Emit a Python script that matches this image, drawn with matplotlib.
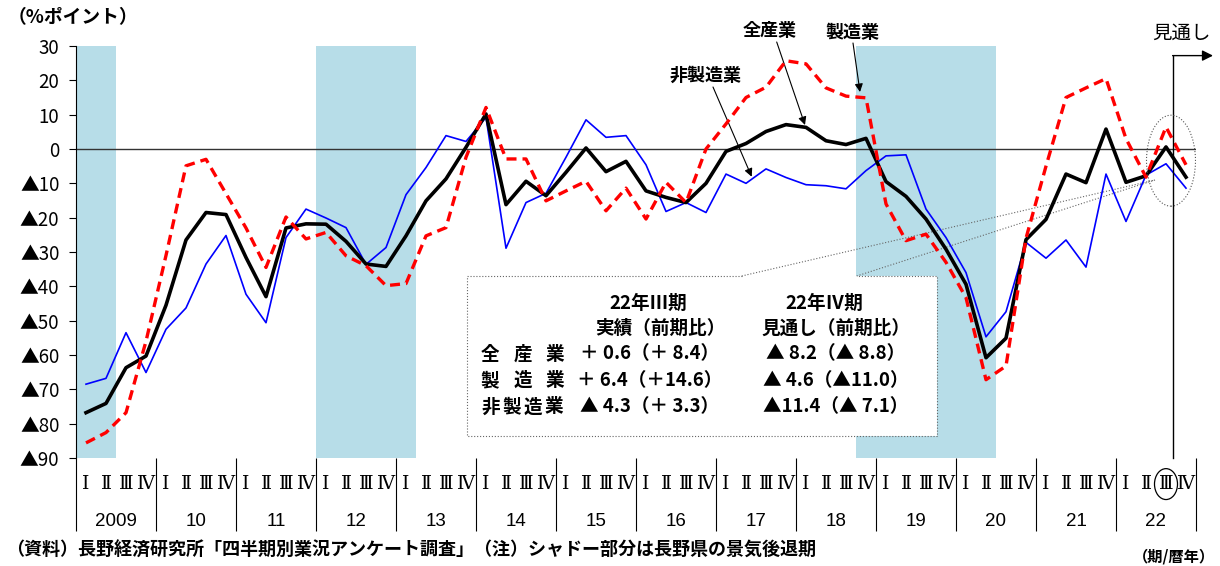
import matplotlib
matplotlib.use("Agg")
import matplotlib.pyplot as plt
from matplotlib.patches import Rectangle, Ellipse
import numpy as np

W, H = 1220, 566
JP = "Noto Sans CJK JP"
plt.rcParams["font.family"] = [JP, "DejaVu Sans"]

# ---- data (DI, %ポイント), 2009 I ~ 2022 IV (IV is 見通し) ----
years = list(range(2009, 2023))
quarter_marks = ["Ⅰ", "Ⅱ", "Ⅲ", "Ⅳ"]
year_labels = ["2009"] + [str(y)[2:] for y in years[1:]]

all_industry = [
    -76.8, -74.1, -63.7, -60.3,
    -45.5, -26.5, -18.5, -19.1,
    -31.6, -43.0, -23.0, -21.8,
    -21.9, -26.9, -33.5, -34.2,
    -25.3, -15.1, -8.7, 0.5,
    10.2, -16.2, -9.4, -13.6,
    -6.8, 0.3, -6.6, -3.6,
    -12.2, -14.1, -15.6, -10.0,
    -0.7, 1.6, 5.1, 7.1,
    6.3, 2.4, 1.3, 3.1,
    -9.5, -13.8, -20.4, -29.2,
    -39.4, -60.8, -55.1, -26.4,
    -20.5, -7.3, -9.8, 5.8,
    -9.7, -7.8, 0.6, -8.2,
]
manufacturing = [
    -85.6, -82.6, -76.8, -56.0,
    -31.0, -4.9, -3.0, -13.0,
    -23.0, -34.5, -19.8, -26.2,
    -24.3, -31.1, -34.0, -39.8,
    -39.2, -25.3, -22.9, -2.4,
    12.1, -2.9, -2.9, -15.1,
    -12.2, -9.4, -18.0, -11.4,
    -20.4, -9.7, -15.6, 0.0,
    7.3, 15.0, 18.0, 25.7,
    24.8, 17.8, 15.4, 14.9,
    -16.0, -26.7, -24.8, -33.0,
    -43.3, -67.2, -63.2, -26.0,
    -5.0, 15.0, 17.8, 20.5,
    3.0, -8.2, 6.4, -4.6,
]
non_manufacturing = [
    -68.5, -66.8, -53.5, -65.1,
    -52.5, -46.3, -33.5, -25.2,
    -42.3, -50.6, -25.8, -17.5,
    -20.1, -22.9, -33.6, -28.7,
    -13.3, -5.4, 3.9, 2.2,
    9.2, -28.9, -15.6, -12.9,
    -2.4, 8.5, 3.4, 3.9,
    -4.6, -18.2, -15.6, -18.5,
    -7.3, -10.0, -5.8, -8.3,
    -10.4, -10.7, -11.6, -6.3,
    -2.0, -1.7, -17.5, -25.8,
    -36.0, -54.7, -47.4, -27.2,
    -31.8, -26.5, -34.4, -7.3,
    -21.1, -7.6, -4.3, -11.4,
]

# 長野県の景気後退期 (start, end) as (year, quarter)
recessions = [((2009, 1), (2009, 2)), ((2012, 1), (2013, 1)), ((2018, 4), (2020, 2))]

yticks = list(range(-90, 31, 10))
ytick_labels = [f"▲{-v}" if v < 0 else str(v) for v in yticks]

summary_rows = ["全産業", "製造業", "非製造業"]
summary_q3 = ["＋ 0.6（＋ 8.4）", "＋ 6.4（＋14.6）", "▲ 4.3（＋ 3.3）"]
summary_q4 = ["▲ 8.2（▲ 8.8）", "▲ 4.6（▲11.0）", "▲11.4（▲ 7.1）"]


def qi(year, q):
    return (year - 2009) * 4 + (q - 1)


def P(x, y):
    # pixel position (from top-left) -> figure fraction
    return x / W, 1 - y / H


fig = plt.figure(figsize=(W / 100, H / 100), dpi=100)
ax = fig.add_axes([76 / W, 1 - 458 / H, 1120 / W, 412 / H])

x = np.arange(len(all_industry)) + 0.5
n = len(all_industry)

for start, end in recessions:
    ax.axvspan(qi(*start), qi(*end) + 1, color="#B7DDE8", lw=0, zorder=1)

ax.axhline(0, color="#333333", lw=1.0, zorder=2)

ax.plot(x, non_manufacturing, color="#0000FF", lw=1.2, zorder=3)
ax.plot(x, all_industry, color="black", lw=2.6, zorder=4)
ax.plot(x, manufacturing, color="#FF0000", lw=2.4, ls=(0, (3, 1.8)), zorder=5)

ax.set_xlim(0, n)
ax.set_ylim(-90, 30)
for s in ["top", "right", "bottom"]:
    ax.spines[s].set_visible(False)
ax.spines["left"].set_linewidth(0.8)
ax.set_xticks([])
ax.set_yticks(yticks)
ax.set_yticklabels(ytick_labels, fontsize=13.5, family=[JP])
ax.tick_params(axis="y", length=5, width=0.8, pad=7)

# category axis below
ax.vlines(np.arange(0, n + 1, 4), -90, -111.3, color="black", lw=0.8, clip_on=False)
for i in range(n):
    ax.text(x[i], -97.6, quarter_marks[i % 4], ha="center", va="center",
            fontsize=13.5, family=["DejaVu Serif", JP], clip_on=False)
for k, lab in enumerate(year_labels):
    ax.text(k * 4 + 2, -108.5, lab, ha="center", va="center", fontsize=13.5,
            family=["Liberation Sans", JP], clip_on=False)
ax.add_patch(Ellipse((qi(2022, 3) + 0.5, -97.6), 1.15, 9.0, fill=False, lw=0.9,
                     color="black", clip_on=False))

# 見通し marker
fx = qi(2022, 3) + 0.85
ax.plot([fx, fx], [-90, 27.2], color="black", lw=1.0, clip_on=False, zorder=6)
ax.annotate("", xy=(56.85, 27.2), xytext=(fx - 0.02, 27.2), annotation_clip=False,
            arrowprops=dict(arrowstyle="-|>", color="black", lw=1.0, mutation_scale=16,
                            shrinkA=0, shrinkB=0))
ax.text(55.27, 33.8, "見通し", ha="center", va="center", fontsize=14, clip_on=False)
ax.add_patch(Ellipse((54.75, -3.4), 2.45, 26.5, fill=False, lw=0.8, ls=":",
                     color="#555555", zorder=6))

# series labels
for txt, (px, py), (ax0, ay0), (ax1, ay1) in [
    ("全産業", (770, 30), (776.7, 42), (805, 125)),
    ("製造業", (852, 32), (853, 43), (860, 92)),
    ("非製造業", (706, 75), (713, 87), (751.7, 176.7)),
]:
    fig.text(*P(px, py), txt, ha="center", va="center", fontsize=13, weight="bold")
    ax.annotate("", xy=P(ax1, ay1), xytext=P(ax0, ay0), xycoords="figure fraction",
                arrowprops=dict(arrowstyle="-|>", color="black", lw=0.8,
                                mutation_scale=12, shrinkA=0, shrinkB=0))

# callout box
bx0, by0, bx1, by1 = 466.7, 276, 936.7, 435.7
ax.add_patch(Rectangle(P(bx0, by1), (bx1 - bx0) / W, (by1 - by0) / H,
                       transform=fig.transFigure, facecolor="white", edgecolor="none",
                       clip_on=False, zorder=2.5))
outline = [(741.7, by0), (bx0, by0), (bx0, by1), (bx1, by1), (bx1, by0), (856.7, by0)]
ox, oy = zip(*[P(*p) for p in outline])
ax.plot(ox, oy, transform=fig.transFigure, color="#666666", lw=0.8, ls=":",
        clip_on=False, zorder=2.6)
for sx in (741.7, 856.7):
    wx, wy = zip(P(sx, by0), P(1155, 180))
    ax.plot(wx, wy, transform=fig.transFigure, color="#666666", lw=0.8, ls=":",
            clip_on=False, zorder=2.6)

bold = dict(fontsize=13.4, weight="bold", va="center")
fig.text(*P(648, 303), "22年Ⅲ期", ha="center", **bold)
fig.text(*P(660, 328), "実績（前期比）", ha="center", **bold)
fig.text(*P(824, 303), "22年Ⅳ期", ha="center", **bold)
fig.text(*P(836, 328), "見通し（前期比）", ha="center", **bold)
for r, (lab, v3, v4) in enumerate(zip(summary_rows, summary_q3, summary_q4)):
    ry = 354 + r * 26.5
    cx = np.linspace(490, 555, len(lab)) if len(lab) == 3 else np.linspace(491, 554, len(lab))
    for c, ch in zip(cx, lab):
        fig.text(*P(c, ry), ch, ha="center", **bold)
    fig.text(*P(650, ry), v3, ha="center", **bold)
    fig.text(*P(836, ry), v4, ha="center", **bold)

# outer texts
fig.text(*P(8, 18), "（%ポイント）", ha="left", va="center", fontsize=13.5, weight="bold")
fig.text(*P(6, 550), "（資料）長野経済研究所「四半期別業況アンケート調査」（注）シャドー部分は長野県の景気後退期",
         ha="left", va="center", fontsize=13, weight="bold")
fig.text(*P(1215, 557), "（期/暦年）", ha="right", va="center", fontsize=11, weight="bold")

fig.savefig("out.png", dpi=100)
